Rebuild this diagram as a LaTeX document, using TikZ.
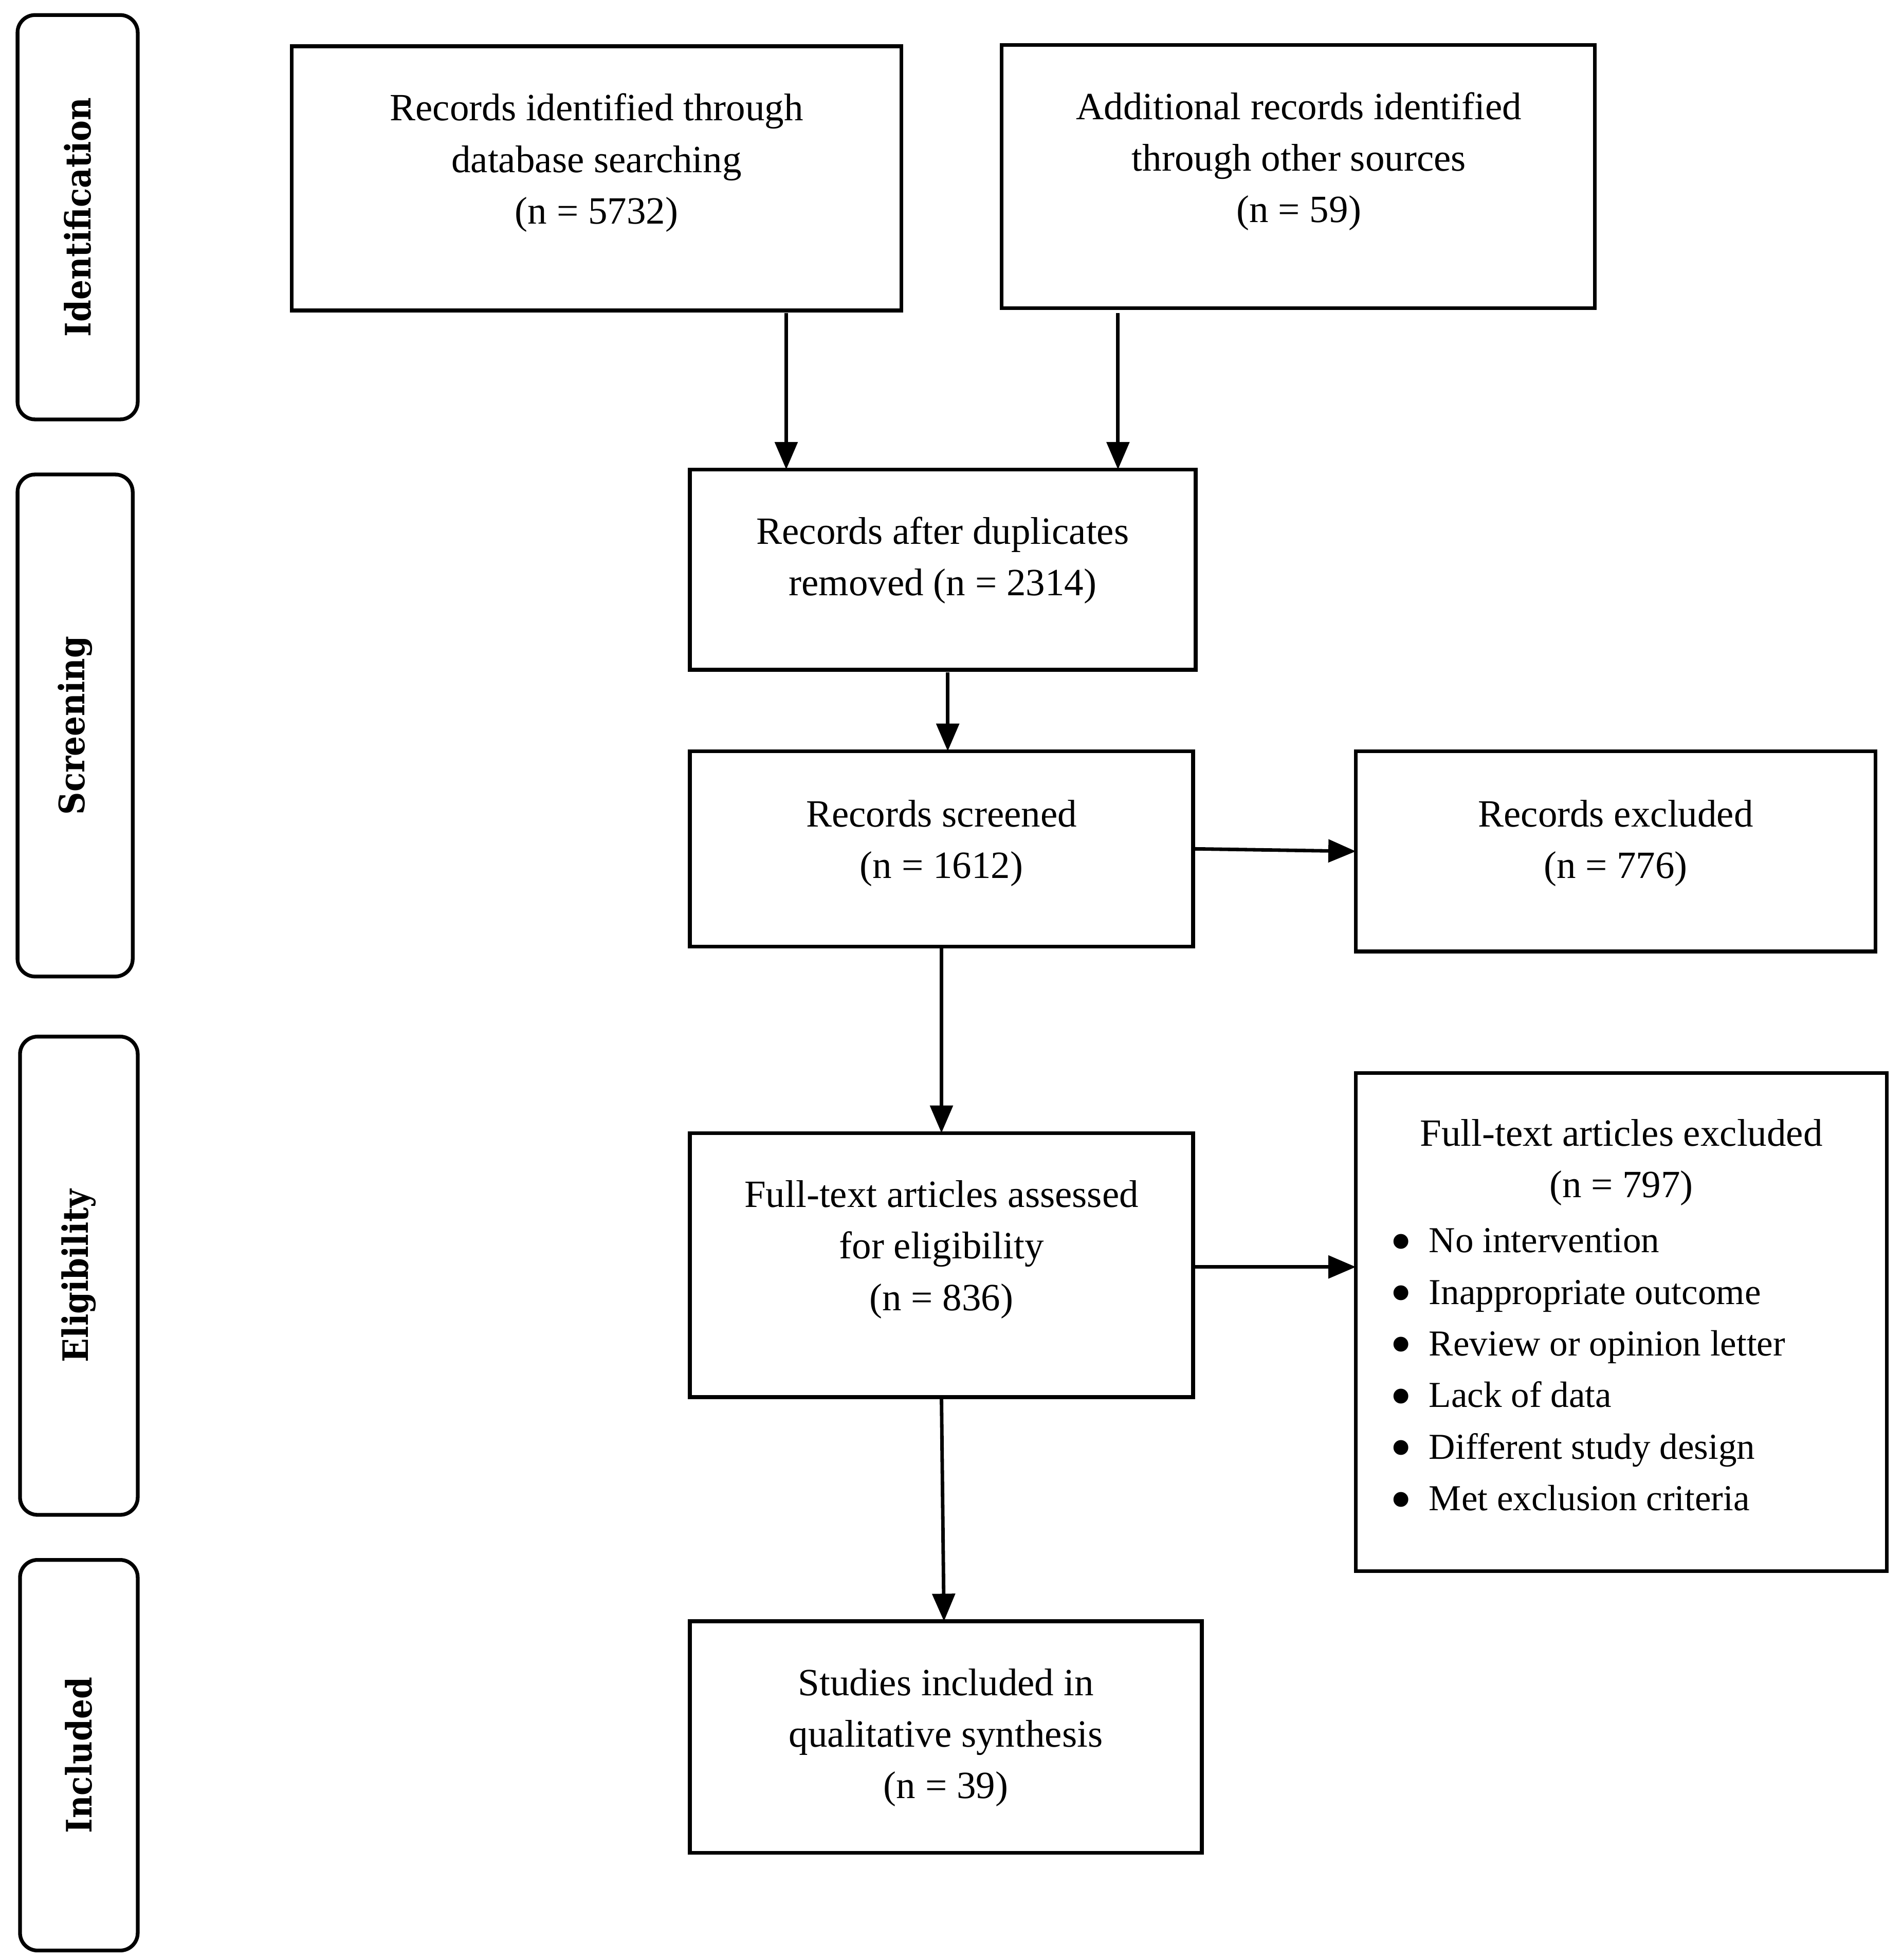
\documentclass[tikz,border=0pt]{standalone}
\usepackage{fontspec}
\usepackage{graphicx}
\setmainfont{Liberation Serif}
\newfontfamily\sidefont[FakeStretch=0.9]{DejaVu Serif}
\usetikzlibrary{arrows.meta}
\newcommand\bl{\makebox[15.5pt][l]{\raisebox{-0.26em}[0pt][0pt]{\scalebox{1.7}{\textbullet}}}}
\tikzset{
  box/.style={draw, line width=1.5pt, inner sep=0pt, outer sep=0pt},
  side/.style={draw, line width=1.5pt, rounded corners=7pt, inner sep=0pt, outer sep=0pt},
  txt/.style={align=center, inner sep=0pt, font=\fontsize{15.4}{20.6}\selectfont},
  listtxt/.style={align=left, inner sep=0pt, font=\fontsize{14.6}{20.6}\selectfont},
  sidetxt/.style={rotate=90, inner sep=0pt, font=\sidefont\bfseries\fontsize{14}{17}\selectfont},
  arr/.style={line width=1.4pt, -{Triangle[length=11pt,width=9pt]}}
}
\begin{document}
\begin{tikzpicture}[x=0.5pt,y=-0.5pt]
\useasboundingbox (0,0) rectangle (1520,1565.6);
% side phase boxes
\node[side, minimum width=48pt, minimum height=161.5pt] (s1) at (62,173.5) {};
\node[sidetxt] (s1t) at (s1.center) {Identification};
\node[side, minimum width=46pt, minimum height=200.5pt] (s2) at (60,579.5) {};
\node[sidetxt] (s2t) at (s2.center) {Screening};
\node[side, minimum width=47pt, minimum height=191pt] (s3) at (63,1019) {};
\node[sidetxt] (s3t) at (s3.center) {Eligibility};
\node[side, minimum width=47pt, minimum height=156pt] (s4) at (63,1402) {};
\node[sidetxt] (s4t) at (s4.center) {Included};
% boxes
\node[box, minimum width=243.5pt, minimum height=105.5pt] (b1) at (476.5,142.5) {};
\node[txt] (b1t) at (476.5,130) {Records identified through\\database searching\\(n = 5732)};
\node[box, minimum width=237pt, minimum height=105pt] (b2) at (1037,141) {};
\node[txt] (b2t) at (1037.5,129) {Additional records identified\\through other sources\\(n = 59)};
\node[box, minimum width=202pt, minimum height=80pt] (b3) at (753,455) {};
\node[txt] (b3t) at (753,447.5) {Records after duplicates\\removed (n = 2314)};
\node[box, minimum width=201pt, minimum height=78pt] (b4) at (752,678) {};
\node[txt] (b4t) at (752,673.5) {Records screened\\(n = 1612)};
\node[box, minimum width=207.5pt, minimum height=80pt] (b5) at (1290.5,680) {};
\node[txt] (b5t) at (1290.5,673.5) {Records excluded\\(n = 776)};
\node[box, minimum width=201pt, minimum height=105.5pt] (b6) at (752,1010.5) {};
\node[txt] (b6t) at (752,998) {Full-text articles assessed\\for eligibility\\(n = 836)};
\node[box, minimum width=212pt, minimum height=199pt] (b7) at (1295,1056) {};
\node[txt] (b7t) at (1295,928.5) {Full-text articles excluded\\(n = 797)};
\node[listtxt, anchor=west] (b7l) at (1110,1094) {\bl No intervention\\\bl Inappropriate outcome\\\bl Review or opinion letter\\\bl Lack of data\\\bl Different study design\\\bl Met exclusion criteria};
\node[box, minimum width=204.5pt, minimum height=92.5pt] (b8) at (755.5,1387.5) {};
\node[txt] (b8t) at (755.5,1388) {Studies included in\\qualitative synthesis\\(n = 39)};
% arrows
\draw[arr] ([yshift=-1pt]b1.south -| 628,0) -- (b3.north -| 628,0);
\draw[arr] ([yshift=-2pt]b2.south -| 893,0) -- (b3.north -| 893,0);
\draw[arr] ([yshift=-1pt]b3.south -| 757,0) -- (b4.north -| 757,0);
\draw[arr] (b4.east) -- (b5.west);
\draw[arr] (b4.south) -- (b6.north);
\draw[arr] (b6.east |- 0,1012) -- (b7.west |- 0,1012);
\draw[arr] (b6.south) -- (b8.north -| 754,0);
\end{tikzpicture}
\end{document}
